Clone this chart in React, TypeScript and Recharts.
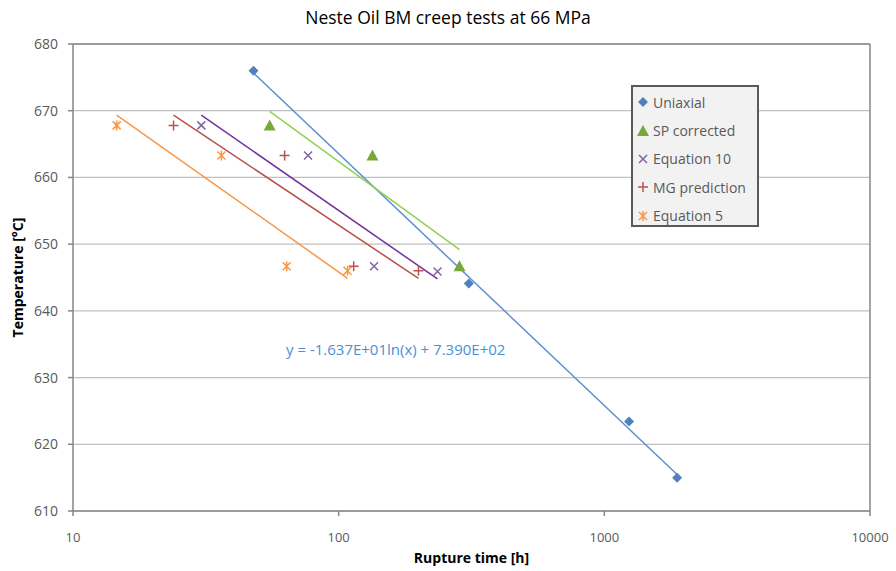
import React from "react"
import {
  ScatterChart, Scatter, XAxis, YAxis, CartesianGrid, ReferenceLine
} from "recharts"

// rupture time [h] vs temperature [°C]
const uniaxial = [
  { x: 47.8, y: 676 },
  { x: 309, y: 644.1 },
  { x: 1239, y: 623.4 },
  { x: 1879, y: 615 },
]

const spCorrected = [
  { x: 55, y: 667.8 },
  { x: 134, y: 663.3 },
  { x: 285, y: 646.7 },
]

const equation10 = [
  { x: 30.4, y: 667.8 },
  { x: 76.7, y: 663.3 },
  { x: 135.9, y: 646.7 },
  { x: 235.5, y: 645.9 },
]

const mgPrediction = [
  { x: 23.9, y: 667.8 },
  { x: 62.6, y: 663.3 },
  { x: 113.9, y: 646.7 },
  { x: 199.7, y: 646 },
]

const equation5 = [
  { x: 14.6, y: 667.8 },
  { x: 36.2, y: 663.3 },
  { x: 63.7, y: 646.7 },
  { x: 108, y: 646 },
]

const xTicks = [10, 100, 1000, 10000]
const yTicks = [610, 620, 630, 640, 650, 660, 670, 680]

const FONT = "'Open Sans', 'Noto Sans', sans-serif"
const TEXT = "#595959"

// logarithmic trendline (y = a + b ln x), like Excel's
function logFit(pts: { x: number; y: number }[]) {
  const n = pts.length
  const lx = pts.map((p) => Math.log(p.x))
  const mx = lx.reduce((s, v) => s + v, 0) / n
  const my = pts.reduce((s, p) => s + p.y, 0) / n
  let sxy = 0
  let sxx = 0
  pts.forEach((p, i) => {
    sxy += (lx[i] - mx) * (p.y - my)
    sxx += (lx[i] - mx) ** 2
  })
  const b = sxy / sxx
  const a = my - b * mx
  const xs = pts.map((p) => p.x)
  const lo = Math.min(...xs)
  const hi = Math.max(...xs)
  return [lo, hi].map((x) => ({ x, y: a + b * Math.log(x) }))
}

const Diamond = ({ cx, cy, color }: any) => (
  <path d={`M${cx},${cy - 5}L${cx + 5},${cy}L${cx},${cy + 5}L${cx - 5},${cy}Z`} fill={color} />
)
const Triangle = ({ cx, cy, color }: any) => (
  <path d={`M${cx},${cy - 6}L${cx + 6},${cy + 5}L${cx - 6},${cy + 5}Z`} fill={color} />
)
const Cross = ({ cx, cy, color }: any) => (
  <path d={`M${cx - 4},${cy - 4}L${cx + 4},${cy + 4}M${cx + 4},${cy - 4}L${cx - 4},${cy + 4}`} stroke={color} strokeWidth={1.5} />
)
const Plus = ({ cx, cy, color }: any) => (
  <path d={`M${cx - 5},${cy}L${cx + 5},${cy}M${cx},${cy - 5}L${cx},${cy + 5}`} stroke={color} strokeWidth={1.5} />
)
const Star = ({ cx, cy, color }: any) => (
  <path
    d={`M${cx - 4},${cy - 4}L${cx + 4},${cy + 4}M${cx + 4},${cy - 4}L${cx - 4},${cy + 4}M${cx},${cy - 5}L${cx},${cy + 5}`}
    stroke={color}
    strokeWidth={1.5}
  />
)

const series = [
  { name: "Uniaxial", data: uniaxial, color: "#4f81bd", line: "#5b8fd0", Shape: Diamond },
  { name: "SP corrected", data: spCorrected, color: "#77a83a", line: "#92d050", Shape: Triangle },
  { name: "Equation 10", data: equation10, color: "#8064a2", line: "#7030a0", Shape: Cross },
  { name: "MG prediction", data: mgPrediction, color: "#c0504d", line: "#b8504d", Shape: Plus },
  { name: "Equation 5", data: equation5, color: "#f79646", line: "#f79646", Shape: Star },
]

const LegendBox = () => (
  <div
    style={{
      position: "absolute",
      left: 631,
      top: 85,
      background: "#f2f2f2",
      border: "2px solid #595959",
      width: 128,
      height: 142,
      boxSizing: "border-box",
      padding: "1px 0 0 3px",
      fontFamily: FONT,
      fontSize: 14,
      color: TEXT,
    }}
  >
    {series.map(({ name, color, Shape }) => (
      <div key={name} style={{ display: "flex", alignItems: "center", height: 28.4, whiteSpace: "nowrap" }}>
        <svg width={14} height={14} style={{ marginRight: 3, flexShrink: 0 }}>
          <Shape cx={7} cy={7} color={color} />
        </svg>
        <span>{name}</span>
      </div>
    ))}
  </div>
)

export default function App() {
  return (
    <div style={{ position: "absolute", left: 0, top: 0, width: 896, height: 571, background: "#fff" }}>
      <ScatterChart width={896} height={571} margin={{ top: 44, right: 26, bottom: 0, left: 0 }}>
        <CartesianGrid vertical={false} stroke="#c0c0c0" strokeWidth={1.2} />
        <XAxis
          type="number"
          dataKey="x"
          scale="log"
          domain={[10, 10000]}
          ticks={xTicks}
          allowDataOverflow
          height={60}
          stroke="#868686"
          strokeWidth={1.5}
          tickSize={5}
          tickMargin={17}
          tick={{ fill: TEXT, fontSize: 13, fontFamily: FONT }}
          label={{
            value: "Rupture time [h]", position: "insideBottom", offset: 8,
            style: { fill: "#000", fontSize: 14, fontWeight: "bold", fontFamily: FONT },
          }}
        />
        <YAxis
          type="number"
          dataKey="y"
          domain={[610, 680]}
          ticks={yTicks}
          width={73}
          stroke="#868686"
          strokeWidth={1.5}
          tickSize={5}
          tickMargin={10}
          tick={{ fill: TEXT, fontSize: 14, fontFamily: FONT }}
          label={{
            value: "Temperature [°C]", angle: -90, position: "insideLeft", offset: 18,
            style: { textAnchor: "middle", fill: "#000", fontSize: 14, fontWeight: "bold", fontFamily: FONT },
          }}
        />
        <ReferenceLine y={680} stroke="#868686" strokeWidth={1.5} />
        <ReferenceLine x={10000} stroke="#868686" strokeWidth={1.5} />
        {series.map((s) => (
          <Scatter
            key={s.name + "-fit"}
            data={logFit(s.data)}
            line={{ stroke: s.line, strokeWidth: 1.5 }}
            shape={() => <g />}
            legendType="none"
            isAnimationActive={false}
          />
        ))}
        {series.map(({ name, data, color, Shape }) => (
          <Scatter
            key={name}
            name={name}
            data={data}
            fill={color}
            shape={(p: any) => <Shape cx={p.cx} cy={p.cy} color={color} />}
            isAnimationActive={false}
          />
        ))}
      </ScatterChart>
      <div
        style={{
          position: "absolute", left: 0, top: 5, width: 896, textAlign: "center",
          fontFamily: FONT, fontSize: 17.5, color: "#000",
        }}
      >
        Neste Oil BM creep tests at 66 MPa
      </div>
      <div
        style={{
          position: "absolute", left: 286, top: 339, fontFamily: FONT, fontSize: 15, color: "#4a90d8",
          whiteSpace: "nowrap",
        }}
      >
        y = -1.637E+01ln(x) + 7.390E+02
      </div>
      <LegendBox />
    </div>
  )
}
